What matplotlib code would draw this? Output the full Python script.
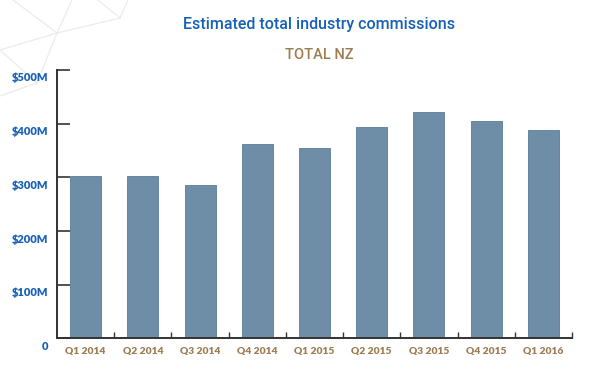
import matplotlib.pyplot as plt
import matplotlib.transforms as mtransforms
from matplotlib.lines import Line2D
import numpy as np

# data ($ millions)
quarters = ["Q1 2014", "Q2 2014", "Q3 2014", "Q4 2014", "Q1 2015",
            "Q2 2015", "Q3 2015", "Q4 2015", "Q1 2016"]
commissions = [302, 303, 286, 363, 354, 394, 422, 405, 389]
ytick_vals = [0, 100, 200, 300, 400, 500]
ytick_labels = ["0", "$100M", "$200M", "$300M", "$400M", "$500M"]

blue = "#1660b8"
gold = "#9c7d52"
bar_col = "#6e8da6"
axis_col = "#333333"

fig = plt.figure(figsize=(5.9, 3.88), dpi=100)
ax = fig.add_axes([0.0966, 0.1276, 0.8729, 0.692])

# faint decorative lines in the corner
deco = [((0, 50), (57, 33)), ((57, 33), (120, 18)), ((13, 0), (57, 33)),
        ((72, 0), (57, 33)), ((98, 0), (120, 18)), ((120, 18), (128, 0)),
        ((0, 50), (37, 83)), ((37, 83), (0, 96)), ((57, 33), (37, 83))]
for (x0, y0), (x1, y1) in deco:
    fig.add_artist(Line2D([x0 / 590, x1 / 590], [1 - y0 / 388, 1 - y1 / 388],
                          color="#ebebeb", lw=0.9, transform=fig.transFigure, zorder=0))

x = np.arange(len(quarters))
ax.bar(x, commissions, width=0.54, color=bar_col, edgecolor="#5b7c97", linewidth=0.6)

ax.set_xlim(-0.5, len(quarters) - 0.5)
ax.set_ylim(0, 500)
ax.patch.set_alpha(0)

for s in ["top", "right"]:
    ax.spines[s].set_visible(False)
for s in ["left", "bottom"]:
    ax.spines[s].set_color(axis_col)
    ax.spines[s].set_linewidth(1.4)

# y axis: inward ticks, labels shifted down a bit
ax.set_yticks(ytick_vals)
ax.set_yticklabels(ytick_labels)
ax.tick_params(axis="y", direction="in", length=9.5, width=1.2, color=axis_col,
               pad=6, labelsize=8, labelcolor=blue)
off = mtransforms.ScaledTranslation(0, -5 / 72, fig.dpi_scale_trans)
for lab in ax.get_yticklabels():
    lab.set_fontfamily("Lato")
    lab.set_fontweight("heavy")
    lab.set_transform(lab.get_transform() + off)

# x axis: small ticks between bars, labels under bars
ax.set_xticks(x + 0.5)
ax.set_xticklabels([])
ax.tick_params(axis="x", direction="in", length=4, width=1.0, color=axis_col)
for xi, q in zip(x, quarters):
    ax.text(xi, -24, q, ha="center", va="center", fontsize=7.4, color=gold,
            fontfamily="Lato", fontweight="heavy")

fig.text(0.541, 0.938, "Estimated total industry commissions", ha="center", va="center",
         fontsize=11.5, color=blue, family="Roboto", fontweight="medium")
fig.text(0.541, 0.858, "TOTAL NZ", ha="center", va="center",
         fontsize=10.5, color=gold, family="Roboto", fontweight="medium")

fig.savefig("out.png", dpi=100)
